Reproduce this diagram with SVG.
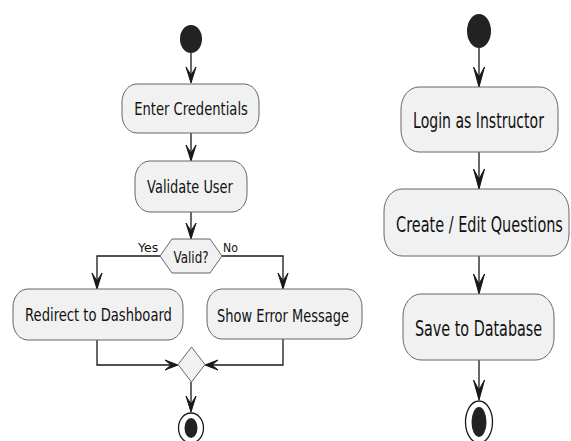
<svg xmlns="http://www.w3.org/2000/svg" width="571" height="441" viewBox="0 0 571 441">
<style>
.box{fill:#F1F1F1;stroke:#666;stroke-width:1}
.ln{fill:none;stroke:#181818;stroke-width:1.3}
.ah{fill:#181818;stroke:#181818;stroke-width:1}
.t{font-family:"DejaVu Sans","Liberation Sans",sans-serif;fill:#111;text-anchor:middle}
.s{font-family:"DejaVu Sans","Liberation Sans",sans-serif;fill:#111}
.dot{fill:#222}
</style>
<rect width="571" height="441" fill="#fff"/>
<g id="connectors">
<line class="ln" x1="191" y1="53" x2="191" y2="82"/>
<polygon class="ah" points="191,83 186,67 191,75 196,67"/>
<line class="ln" x1="191" y1="133" x2="191" y2="160"/>
<polygon class="ah" points="191,161 186,145 191,153 196,145"/>
<line class="ln" x1="191" y1="212" x2="191" y2="238"/>
<polygon class="ah" points="191,239 186,223 191,231 196,223"/>
<polyline class="ln" points="160,256 97,256 97,287"/>
<polygon class="ah" points="97,289 92,273 97,281 102,273"/>
<polyline class="ln" points="222,256 283,256 283,287"/>
<polygon class="ah" points="283,289 278,273 283,281 288,273"/>
<polyline class="ln" points="97,340 97,365 176,365"/>
<polygon class="ah" points="178,365 165,360 171,365 165,370"/>
<polyline class="ln" points="283,339 283,365 207,365"/>
<polygon class="ah" points="205,365 218,360 212,365 218,370"/>
<line class="ln" x1="191" y1="382" x2="191" y2="411"/>
<polygon class="ah" points="191,412 186,396 191,404 196,396"/>
<line class="ln" x1="479" y1="48" x2="479" y2="85"/>
<polygon class="ah" points="479,87 473.5,67 479,77 484.5,67"/>
<line class="ln" x1="479" y1="152" x2="479" y2="187"/>
<polygon class="ah" points="479,189 473.5,169 479,179 484.5,169"/>
<line class="ln" x1="479" y1="256" x2="479" y2="292"/>
<polygon class="ah" points="479,294 473.5,274 479,284 484.5,274"/>
<line class="ln" x1="479" y1="360" x2="479" y2="398"/>
<polygon class="ah" points="479,400 473.5,380 479,390 484.5,380"/>
</g>
<g id="start1"><ellipse class="dot" cx="191" cy="39" rx="11" ry="14"/></g>
<g id="enterCredentials">
<rect class="box" x="122" y="84" width="137" height="49" rx="15" ry="18"/>
<text class="t" transform="translate(191,115) scale(0.65,1)" font-size="18" textLength="175" lengthAdjust="spacingAndGlyphs">Enter Credentials</text>
</g>
<g id="validateUser">
<rect class="box" x="135" y="161" width="112" height="51" rx="15" ry="18"/>
<text class="t" transform="translate(190,193) scale(0.65,1)" font-size="18" textLength="132" lengthAdjust="spacingAndGlyphs">Validate User</text>
</g>
<g id="validDecision">
<polygon class="box" points="160,256 172,239 210,239 222,256 210,273 172,273"/>
<text class="t" transform="translate(191,263) scale(0.65,1)" font-size="15" textLength="54" lengthAdjust="spacingAndGlyphs">Valid?</text>
<text class="s" transform="translate(138,252) scale(0.65,1)" font-size="13" textLength="31" lengthAdjust="spacingAndGlyphs">Yes</text>
<text class="s" transform="translate(223,252) scale(0.65,1)" font-size="13" textLength="23" lengthAdjust="spacingAndGlyphs">No</text>
</g>
<g id="redirect">
<rect class="box" x="13" y="289" width="170" height="51" rx="15" ry="18"/>
<text class="t" transform="translate(98.5,321) scale(0.65,1)" font-size="18" textLength="226" lengthAdjust="spacingAndGlyphs">Redirect to Dashboard</text>
</g>
<g id="showError">
<rect class="box" x="207" y="289" width="155" height="50" rx="15" ry="18"/>
<text class="t" transform="translate(283,322) scale(0.65,1)" font-size="18" textLength="203" lengthAdjust="spacingAndGlyphs">Show Error Message</text>
</g>
<g id="merge"><polygon class="box" points="191.5,347 205,364.5 191.5,382 178,364.5"/></g>
<g id="end1">
<ellipse cx="191" cy="428" rx="12.5" ry="15" fill="#fff" stroke="#181818" stroke-width="1.3"/>
<ellipse class="dot" cx="191" cy="428" rx="6.5" ry="10"/>
</g>
<g id="start2"><ellipse class="dot" cx="479" cy="31" rx="12" ry="17"/></g>
<g id="loginInstructor">
<rect class="box" x="401" y="87" width="157" height="65" rx="18" ry="22"/>
<text class="t" transform="translate(478.5,128) scale(0.6,1)" font-size="22" textLength="218" lengthAdjust="spacingAndGlyphs">Login as Instructor</text>
</g>
<g id="createEdit">
<rect class="box" x="384" y="189" width="185" height="67" rx="18" ry="22"/>
<text class="t" transform="translate(479.5,232) scale(0.6,1)" font-size="22" textLength="278" lengthAdjust="spacingAndGlyphs">Create / Edit Questions</text>
</g>
<g id="saveDb">
<rect class="box" x="403" y="294" width="151" height="66" rx="18" ry="22"/>
<text class="t" transform="translate(478.5,336) scale(0.6,1)" font-size="22" textLength="212" lengthAdjust="spacingAndGlyphs">Save to Database</text>
</g>
<g id="end2">
<ellipse cx="479" cy="422" rx="13.5" ry="21" fill="#fff" stroke="#181818" stroke-width="1.3"/>
<ellipse class="dot" cx="479" cy="422" rx="7.5" ry="15"/>
</g>
</svg>
